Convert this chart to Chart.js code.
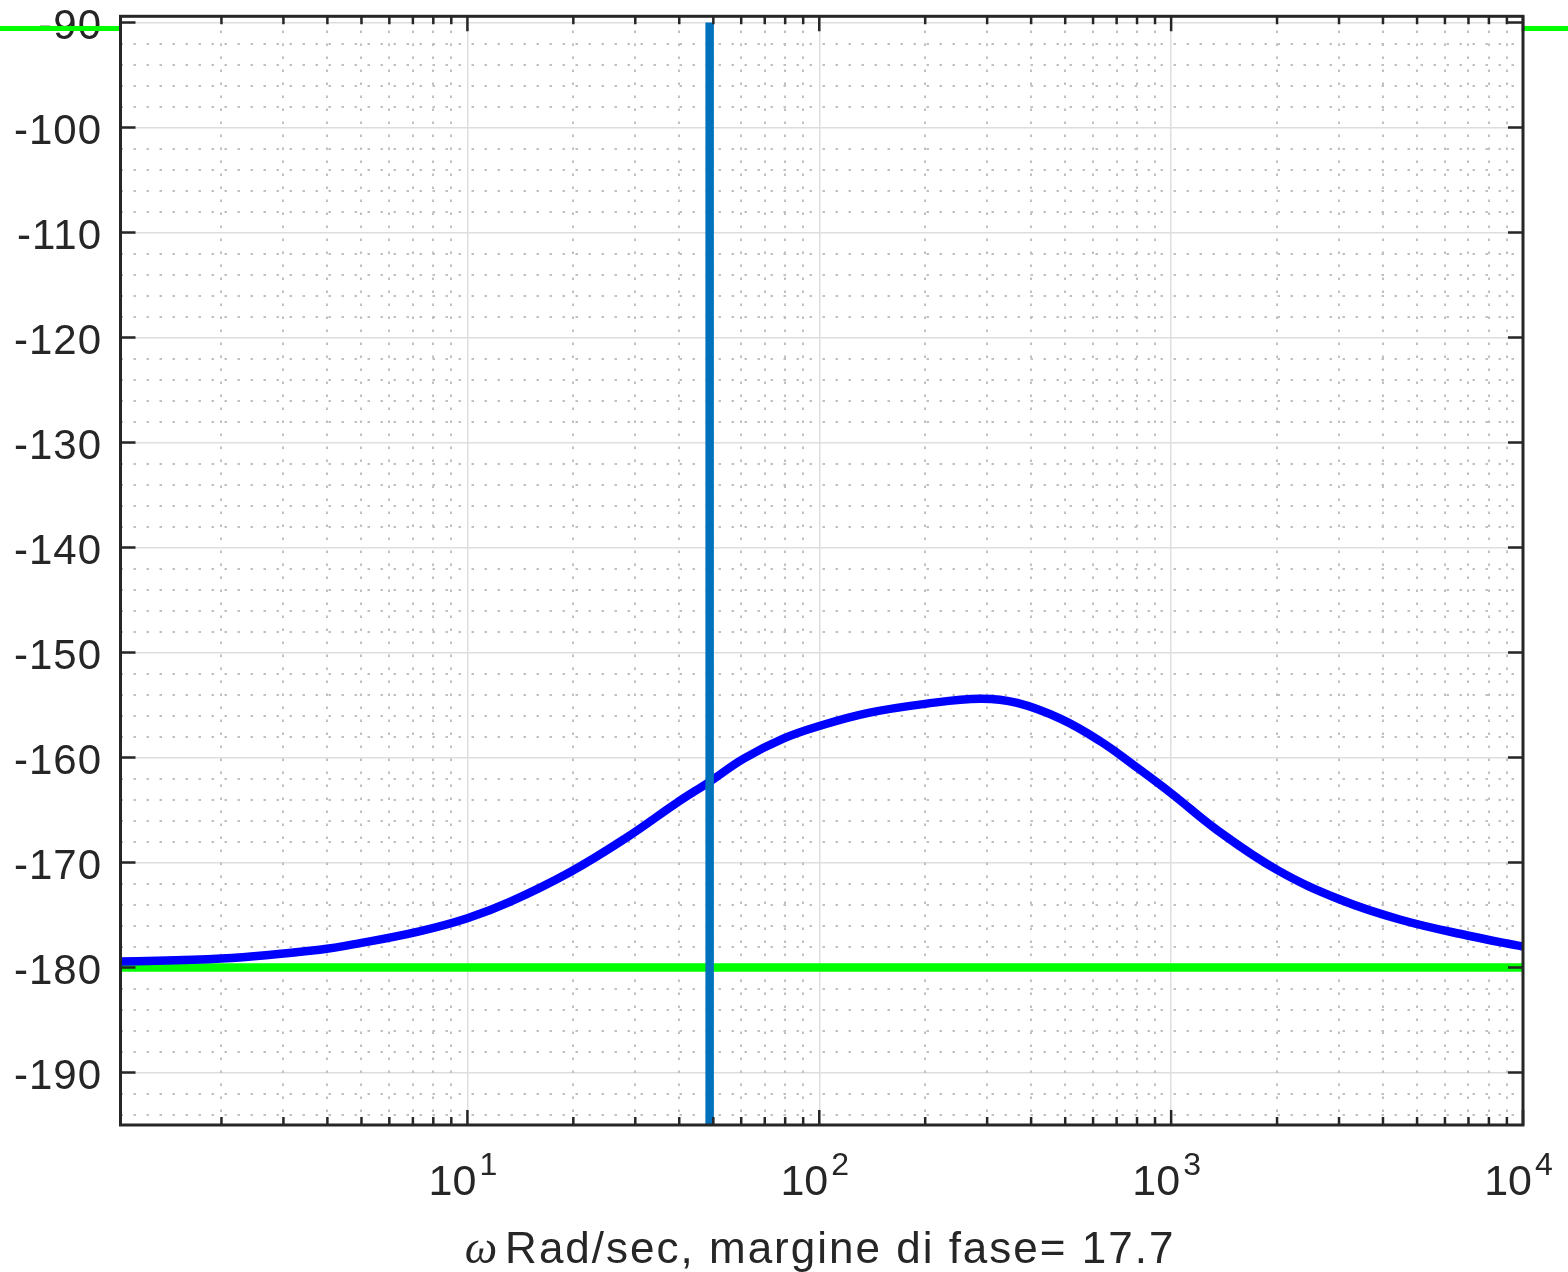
<!DOCTYPE html>
<html lang="it">
<head>
<meta charset="UTF-8">
<title>Margine di fase</title>
<script src="https://cdn.jsdelivr.net/npm/chart.js"></script>
<style>
  html, body { margin: 0; padding: 0; background: #fff; }
  #wrap { width: 1568px; height: 1272px; }
</style>
</head>
<body>
<div id="wrap"><canvas id="phaseChart" width="1568" height="1272"></canvas></div>

<script>
var omega = [1.033, 2, 3.8, 5, 7.3, 10, 13.2, 19.6, 28.4, 39.4, 48.8, 61, 79, 100, 137,
             200, 287, 365, 484, 629, 781, 1000, 1350, 2000, 3030, 4490, 6950, 10000];
var phase = [-179.43, -179.15, -178.3, -177.65, -176.55, -175.3, -173.75, -170.9, -167.6,
             -164.3, -162.3, -160.1, -158.2, -157.0, -155.77, -154.89, -154.4,
             -154.8, -156.3, -158.45, -160.7, -163.4, -166.9, -170.7, -173.55, -175.45,
             -176.95, -178.0];

var omegaCross = 48.8;     // pulsazione di attraversamento
var phaseRef = -180;       // linea verde
var phaseTop = -90;        // linea verde in alto (fuori dagli assi)

var xMajor = [10, 100, 1000, 10000];
var yTicks = [-190, -180, -170, -160, -150, -140, -130, -120, -110, -100, -90];
var xMin = 1.033, xMax = 10000;
var yMin = -195, yMax = -89.4;

var INK = '#262626';
var SANS = '"Liberation Sans", Arial, sans-serif';

function minorX() {
    var out = [];
    for (var d = 1; d <= 1000; d *= 10) {
        for (var m = 2; m <= 9; m++) {
            var v = m * d;
            if (v > xMin && v < xMax) out.push(v);
        }
    }
    return out;
}

function minorY() {
    var out = [];
    for (var v = -194; v <= -90; v += 2) {
        if (v % 10 !== 0 && v > yMin && v < yMax) out.push(v);
    }
    return out;
}

// griglia minore, cornice, tacche ed etichette
var decor = {
    id: 'decor',
    beforeDraw: function (chart) {
        var ctx = chart.ctx;
        ctx.save();
        ctx.fillStyle = '#fff';
        ctx.fillRect(0, 0, chart.width, chart.height);
        ctx.restore();
    },
    beforeDatasetsDraw: function (chart) {
        var ctx = chart.ctx, a = chart.chartArea;
        var xs = chart.scales.x, ys = chart.scales.y;
        ctx.save();
        ctx.beginPath();
        ctx.rect(a.left, a.top, a.right - a.left, a.bottom - a.top);
        ctx.clip();
        ctx.strokeStyle = '#c0c0c0';
        ctx.lineWidth = 2;
        ctx.setLineDash([2.5, 10.5]);
        minorX().forEach(function (v) {
            var px = Math.round(xs.getPixelForValue(v));
            ctx.beginPath();
            ctx.moveTo(px, a.bottom);
            ctx.lineTo(px, a.top);
            ctx.stroke();
        });
        minorY().forEach(function (v) {
            var py = Math.round(ys.getPixelForValue(v));
            ctx.beginPath();
            ctx.moveTo(a.left, py);
            ctx.lineTo(a.right, py);
            ctx.stroke();
        });
        ctx.restore();
    },
    afterDraw: function (chart) {
        var ctx = chart.ctx, a = chart.chartArea;
        var xs = chart.scales.x, ys = chart.scales.y;
        ctx.save();
        ctx.fillStyle = INK;
        ctx.textBaseline = 'alphabetic';

        // etichette asse y
        ctx.font = '42px ' + SANS;
        ctx.letterSpacing = '1px';
        ctx.textAlign = 'right';
        yTicks.forEach(function (v) {
            ctx.fillText(String(v), a.left - 18.5, ys.getPixelForValue(v) + 16.5);
        });

        // etichette asse x: 10^k
        ctx.letterSpacing = '0px';
        ctx.textAlign = 'left';
        xMajor.forEach(function (v) {
            var e = String(Math.round(Math.log10(v)));
            ctx.font = '43px ' + SANS;
            var wb = ctx.measureText('10').width;
            ctx.font = '32px ' + SANS;
            var we = ctx.measureText(e).width;
            var gap = 3;
            var x0 = xs.getPixelForValue(v) - 4.5 - (wb + gap + we) / 2;
            ctx.font = '43px ' + SANS;
            ctx.fillText('10', x0, a.bottom + 70);
            ctx.font = '32px ' + SANS;
            ctx.fillText(e, x0 + wb + gap, a.bottom + 50);
        });

        // titolo asse x
        var sym = '\u03C9', rest = 'Rad/sec, margine di fase= 17.7';
        ctx.font = 'italic 46px "Liberation Serif", serif';
        var w1 = ctx.measureText(sym).width;
        ctx.font = '44px ' + SANS;
        ctx.letterSpacing = '2px';
        var w2 = ctx.measureText(rest).width;
        var gap2 = 8;
        var x1 = 820 - (w1 + gap2 + w2) / 2;
        ctx.letterSpacing = '0px';
        ctx.font = 'italic 46px "Liberation Serif", serif';
        ctx.fillText(sym, x1, a.bottom + 138);
        ctx.font = '44px ' + SANS;
        ctx.letterSpacing = '2px';
        ctx.fillText(rest, x1 + w1 + gap2, a.bottom + 138);
        ctx.letterSpacing = '0px';

        // linea verde a -90 visibile solo fuori dagli assi
        var gy = ys.getPixelForValue(phaseTop) + 6;
        ctx.strokeStyle = '#00ff00';
        ctx.lineWidth = 5;
        ctx.beginPath();
        ctx.moveTo(0, gy);
        ctx.lineTo(a.left, gy);
        ctx.moveTo(a.right, gy);
        ctx.lineTo(chart.width, gy);
        ctx.stroke();

        // cornice
        ctx.strokeStyle = INK;
        ctx.lineWidth = 3;
        ctx.strokeRect(a.left, a.top, a.right - a.left, a.bottom - a.top);

        // tacche
        ctx.lineWidth = 2.5;
        ctx.beginPath();
        xMajor.forEach(function (v) {
            var px = xs.getPixelForValue(v);
            ctx.moveTo(px, a.bottom); ctx.lineTo(px, a.bottom - 15);
            ctx.moveTo(px, a.top); ctx.lineTo(px, a.top + 15);
        });
        minorX().forEach(function (v) {
            var px = xs.getPixelForValue(v);
            ctx.moveTo(px, a.bottom); ctx.lineTo(px, a.bottom - 8);
            ctx.moveTo(px, a.top); ctx.lineTo(px, a.top + 8);
        });
        yTicks.forEach(function (v) {
            var py = ys.getPixelForValue(v);
            ctx.moveTo(a.left, py); ctx.lineTo(a.left + 15, py);
            ctx.moveTo(a.right, py); ctx.lineTo(a.right - 15, py);
        });
        ctx.stroke();
        ctx.restore();
    }
};

var curve = omega.map(function (w, i) { return { x: w, y: phase[i] }; });

new Chart(document.getElementById('phaseChart'), {
    type: 'line',
    data: {
        datasets: [
            {
                label: 'crossover',
                data: [{ x: omegaCross, y: phaseTop }, { x: omegaCross, y: yMin }],
                borderColor: '#0072bd',
                borderWidth: 8.5,
                pointRadius: 0,
                clip: 0,
                order: 0
            },
            {
                label: 'fase',
                data: curve,
                borderColor: '#0000ff',
                borderWidth: 8.5,
                pointRadius: 0,
                tension: 0.4,
                clip: 0,
                order: 1
            },
            {
                label: '-180',
                data: [{ x: xMin, y: phaseRef }, { x: xMax, y: phaseRef }],
                borderColor: '#00ff00',
                borderWidth: 8.5,
                pointRadius: 0,
                clip: 0,
                order: 2
            }
        ]
    },
    options: {
        responsive: false,
        animation: false,
        events: [],
        layout: { padding: { top: 16.3, right: 45, left: 0, bottom: 0 } },
        plugins: { legend: { display: false }, tooltip: { enabled: false } },
        scales: {
            x: {
                type: 'logarithmic',
                min: xMin,
                max: xMax,
                afterBuildTicks: function (s) { s.ticks = xMajor.map(function (v) { return { value: v }; }); },
                afterFit: function (s) { s.height = 147; },
                ticks: { display: false },
                border: { display: false },
                grid: { color: '#dedede', lineWidth: 1.5, drawTicks: false }
            },
            y: {
                type: 'linear',
                min: yMin,
                max: yMax,
                afterBuildTicks: function (s) { s.ticks = yTicks.map(function (v) { return { value: v }; }); },
                afterFit: function (s) { s.width = 120.5; },
                ticks: { display: false },
                border: { display: false },
                grid: { color: '#dedede', lineWidth: 1.5, drawTicks: false }
            }
        }
    },
    plugins: [decor]
});
</script>
</body>
</html>
